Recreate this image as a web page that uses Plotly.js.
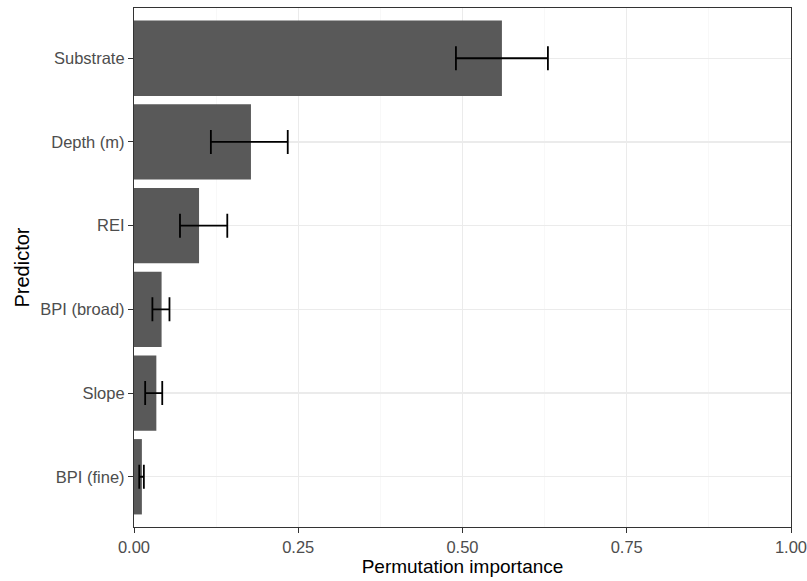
<!DOCTYPE html>
<html>
<head>
<meta charset="utf-8">
<script src="https://cdn.plot.ly/plotly-3.0.1.min.js"></script>
<style>html,body{margin:0;padding:0;background:#fff;}#chart{width:807px;height:581px;}</style>
</head>
<body>
<div id="chart"></div>
<script>
const predictors = ["Substrate", "Depth (m)", "REI", "BPI (broad)", "Slope", "BPI (fine)"];
const importance = [0.560, 0.178, 0.099, 0.042, 0.034, 0.012];
const lower = [0.490, 0.117, 0.070, 0.028, 0.017, 0.008];
const upper = [0.630, 0.234, 0.142, 0.054, 0.043, 0.015];
const xTicks = [0, 0.25, 0.5, 0.75, 1.0];
const xTickLabels = ["0.00", "0.25", "0.50", "0.75", "1.00"];

const errPlus = importance.map((v, i) => upper[i] - v);
const errMinus = importance.map((v, i) => v - lower[i]);

const trace = {
  type: "bar",
  orientation: "h",
  x: importance,
  y: predictors,
  width: 0.9,
  marker: {color: "#595959", line: {width: 0}},
  error_x: {
    type: "data",
    symmetric: false,
    array: errPlus,
    arrayminus: errMinus,
    color: "#000000",
    thickness: 1.8,
    width: 12
  },
  hoverinfo: "x+y"
};

const font = "Liberation Sans, Arial, sans-serif";
const layout = {
  width: 807,
  height: 581,
  margin: {l: 134, r: 16, t: 8, b: 54},
  paper_bgcolor: "#ffffff",
  plot_bgcolor: "#ffffff",
  showlegend: false,
  bargap: 0.1,
  xaxis: {
    range: [0, 1],
    tickvals: xTicks,
    ticktext: xTickLabels,
    ticklabeloverflow: "allow",
    tickfont: {family: font, size: 16.5, color: "#4D4D4D"},
    ticks: "outside",
    ticklen: 5,
    tickwidth: 1,
    tickcolor: "#333333",
    showgrid: true,
    gridcolor: "#EBEBEB",
    gridwidth: 1.2,
    minor: {tickvals: [0.125, 0.375, 0.625, 0.875], showgrid: true, gridcolor: "#F3F3F3", gridwidth: 0.6, ticks: ""},
    zeroline: false,
    showline: true,
    linecolor: "#333333",
    linewidth: 1.1,
    mirror: true,
    title: {text: "Permutation importance", font: {family: font, size: 19, color: "#000000"}, standoff: 4}
  },
  yaxis: {
    type: "category",
    categoryorder: "array",
    categoryarray: predictors.slice().reverse(),
    range: [-0.6, 5.6],
    tickfont: {family: font, size: 16.5, color: "#4D4D4D"},
    ticks: "outside",
    ticklen: 5,
    tickwidth: 1,
    tickcolor: "#333333",
    showgrid: true,
    gridcolor: "#EBEBEB",
    gridwidth: 1.2,
    zeroline: false,
    showline: true,
    linecolor: "#333333",
    linewidth: 1.1,
    mirror: true,
    title: {text: "Predictor", font: {family: font, size: 20, color: "#000000"}, standoff: 5}
  }
};

Plotly.newPlot("chart", [trace], layout, {displayModeBar: false, staticPlot: true});
</script>
</body>
</html>
